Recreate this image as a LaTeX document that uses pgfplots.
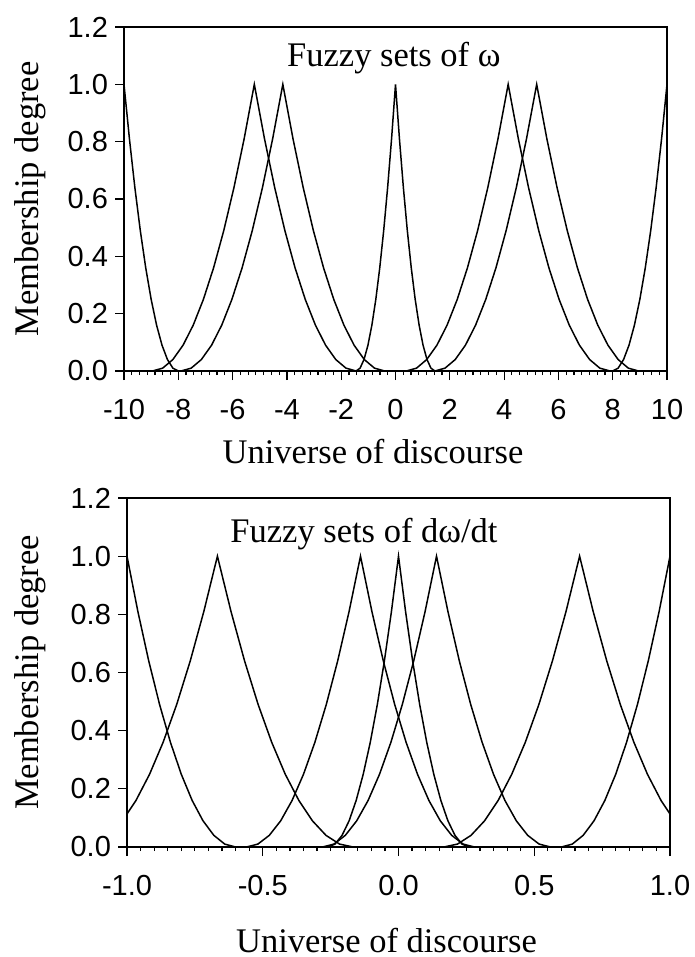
\documentclass[border=0pt]{standalone}
\usepackage{pgfplots}
\pgfplotsset{compat=1.18}
\usepackage{fontspec}
\setmainfont{Liberation Serif}
\newfontfamily\ticksans{Liberation Sans}
\begin{document}
\begin{tikzpicture}
\pgfplotsset{
  myax/.style={
    scale only axis, width=271.5pt,
    axis line style={line width=0.6pt},
    tick style={line width=0.6pt, black},
    tick align=outside,
    xtick pos=left, ytick pos=left,
    major tick length=4.5pt, minor tick length=2pt,
    ymin=0, ymax=1.2,
    ytick={0,0.2,0.4,0.6,0.8,1.0,1.2},
    minor y tick num=0,
    /pgf/number format/assume math mode=true,
    tick label style={font=\fontsize{14.5}{16}\ticksans},
    label style={font=\fontsize{17.25}{20}\selectfont},
    yticklabel style={/pgf/number format/.cd, fixed, fixed zerofill, precision=1},
    xticklabel style={yshift=-6pt},
    cycle list={{black}},
    every axis plot post/.append style={black, line width=0.75pt, mark=none},
  }
}
% ---------------- top axis ----------------
\begin{axis}[myax,
  at={(62pt,-185.5pt)}, anchor=south west, height=172pt,
  xmin=-10, xmax=10, xtick={-10,-8,-6,-4,-2,0,2,4,6,8,10},
  minor x tick num=6,
  xlabel={Universe of discourse}, ylabel={Membership degree},
  xlabel style={at={(axis description cs:0.4586,-0.2355)}, anchor=center},
  ylabel style={at={(axis description cs:-0.172,0.5)}, anchor=center},
]
% left end
\addplot coordinates {(-10,1) (-9.8,0.81) (-9.6,0.64) (-9.4,0.49) (-9.2,0.36) (-9,0.25) (-8.8,0.16) (-8.6,0.09) (-8.4,0.04) (-8.2,0.01) (-8,0)};
% peak -5.2
\addplot coordinates {(-8.95,0) (-8.575,0.01) (-8.2,0.04) (-7.825,0.09) (-7.45,0.16) (-7.075,0.25) (-6.7,0.36) (-6.325,0.49) (-5.95,0.64) (-5.575,0.81) (-5.2,1)
 (-4.825,0.81) (-4.45,0.64) (-4.075,0.49) (-3.7,0.36) (-3.325,0.25) (-2.95,0.16) (-2.575,0.09) (-2.2,0.04) (-1.825,0.01) (-1.45,0)};
% peak -4.15
\addplot coordinates {(-7.9,0) (-7.525,0.01) (-7.15,0.04) (-6.775,0.09) (-6.4,0.16) (-6.025,0.25) (-5.65,0.36) (-5.275,0.49) (-4.9,0.64) (-4.525,0.81) (-4.15,1)
 (-3.775,0.81) (-3.4,0.64) (-3.025,0.49) (-2.65,0.36) (-2.275,0.25) (-1.9,0.16) (-1.525,0.09) (-1.15,0.04) (-0.775,0.01) (-0.4,0)};
% peak 0
\addplot coordinates {(-1.45,0) (-1.305,0.01) (-1.16,0.04) (-1.015,0.09) (-0.87,0.16) (-0.725,0.25) (-0.58,0.36) (-0.435,0.49) (-0.29,0.64) (-0.145,0.81) (0,1)
 (0.145,0.81) (0.29,0.64) (0.435,0.49) (0.58,0.36) (0.725,0.25) (0.87,0.16) (1.015,0.09) (1.16,0.04) (1.305,0.01) (1.45,0)};
% peak 4.15
\addplot coordinates {(0.4,0) (0.775,0.01) (1.15,0.04) (1.525,0.09) (1.9,0.16) (2.275,0.25) (2.65,0.36) (3.025,0.49) (3.4,0.64) (3.775,0.81) (4.15,1)
 (4.525,0.81) (4.9,0.64) (5.275,0.49) (5.65,0.36) (6.025,0.25) (6.4,0.16) (6.775,0.09) (7.15,0.04) (7.525,0.01) (7.9,0)};
% peak 5.2
\addplot coordinates {(1.45,0) (1.825,0.01) (2.2,0.04) (2.575,0.09) (2.95,0.16) (3.325,0.25) (3.7,0.36) (4.075,0.49) (4.45,0.64) (4.825,0.81) (5.2,1)
 (5.575,0.81) (5.95,0.64) (6.325,0.49) (6.7,0.36) (7.075,0.25) (7.45,0.16) (7.825,0.09) (8.2,0.04) (8.575,0.01) (8.95,0)};
% right end
\addplot coordinates {(8,0) (8.2,0.01) (8.4,0.04) (8.6,0.09) (8.8,0.16) (9,0.25) (9.2,0.36) (9.4,0.49) (9.6,0.64) (9.8,0.81) (10,1)};
\node[anchor=base, font=\fontsize{17.25}{20}\selectfont] at (axis cs:-0.06,1.0615) {Fuzzy sets of ω};
\end{axis}
% ---------------- bottom axis ----------------
\begin{axis}[myax,
  at={(63.5pt,-423.5pt)}, anchor=south west, height=174.5pt,
  xmin=-1, xmax=1, xtick={-1,-0.5,0,0.5,1},
  minor x tick num=9,
  xticklabel style={/pgf/number format/.cd, fixed, fixed zerofill, precision=1},
  xlabel={Universe of discourse}, ylabel={Membership degree},
  xlabel style={at={(axis description cs:0.478,-0.268)}, anchor=center, inner sep=0pt},
  ylabel style={at={(axis description cs:-0.179,0.5)}, anchor=center},
]
% left end
\addplot coordinates {(-1,1) (-0.96,0.81) (-0.92,0.64) (-0.88,0.49) (-0.84,0.36) (-0.8,0.25) (-0.76,0.16) (-0.72,0.09) (-0.68,0.04) (-0.64,0.01) (-0.6,0)};
% peak -0.667
\addplot coordinates {(-1.167,0) (-1.117,0.01) (-1.067,0.04) (-1.017,0.09) (-0.967,0.16) (-0.917,0.25) (-0.867,0.36) (-0.817,0.49) (-0.767,0.64) (-0.717,0.81) (-0.667,1)
 (-0.617,0.81) (-0.567,0.64) (-0.517,0.49) (-0.467,0.36) (-0.417,0.25) (-0.367,0.16) (-0.317,0.09) (-0.267,0.04) (-0.217,0.01) (-0.167,0)};
% peak -0.14
\addplot coordinates {(-0.56,0) (-0.518,0.01) (-0.476,0.04) (-0.434,0.09) (-0.392,0.16) (-0.35,0.25) (-0.308,0.36) (-0.266,0.49) (-0.224,0.64) (-0.182,0.81) (-0.14,1)
 (-0.098,0.81) (-0.056,0.64) (-0.014,0.49) (0.028,0.36) (0.07,0.25) (0.112,0.16) (0.154,0.09) (0.196,0.04) (0.238,0.01) (0.28,0)};
% peak 0
\addplot coordinates {(-0.26,0) (-0.234,0.01) (-0.208,0.04) (-0.182,0.09) (-0.156,0.16) (-0.13,0.25) (-0.104,0.36) (-0.078,0.49) (-0.052,0.64) (-0.026,0.81) (0,1)
 (0.026,0.81) (0.052,0.64) (0.078,0.49) (0.104,0.36) (0.13,0.25) (0.156,0.16) (0.182,0.09) (0.208,0.04) (0.234,0.01) (0.26,0)};
% peak 0.14
\addplot coordinates {(-0.28,0) (-0.238,0.01) (-0.196,0.04) (-0.154,0.09) (-0.112,0.16) (-0.07,0.25) (-0.028,0.36) (0.014,0.49) (0.056,0.64) (0.098,0.81) (0.14,1)
 (0.182,0.81) (0.224,0.64) (0.266,0.49) (0.308,0.36) (0.35,0.25) (0.392,0.16) (0.434,0.09) (0.476,0.04) (0.518,0.01) (0.56,0)};
% peak 0.667
\addplot coordinates {(0.167,0) (0.217,0.01) (0.267,0.04) (0.317,0.09) (0.367,0.16) (0.417,0.25) (0.467,0.36) (0.517,0.49) (0.567,0.64) (0.617,0.81) (0.667,1)
 (0.717,0.81) (0.767,0.64) (0.817,0.49) (0.867,0.36) (0.917,0.25) (0.967,0.16) (1.017,0.09) (1.067,0.04) (1.117,0.01) (1.167,0)};
% right end
\addplot coordinates {(0.6,0) (0.64,0.01) (0.68,0.04) (0.72,0.09) (0.76,0.16) (0.8,0.25) (0.84,0.36) (0.88,0.49) (0.92,0.64) (0.96,0.81) (1,1)};
\node[anchor=base, font=\fontsize{17.25}{20}\selectfont] at (axis cs:-0.127,1.0487) {Fuzzy sets of dω/dt};
\end{axis}
\pgfresetboundingbox
\path (0pt,0pt) rectangle (347.5pt,-478.5pt);
\end{tikzpicture}
\end{document}
